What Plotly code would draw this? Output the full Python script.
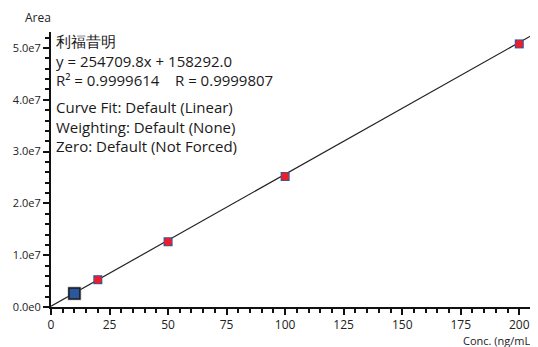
import plotly.graph_objects as go

conc = [10, 20, 50, 100, 200]
area = [2.62e6, 5.27e6, 12.6e6, 25.2e6, 50.8e6]
slope = 254709.8
intercept = 158292.0
highlight_index = 0

x_ticks = [0, 25, 50, 75, 100, 125, 150, 175, 200]
y_ticks = [0, 1e7, 2e7, 3e7, 4e7, 5e7]
y_tick_text = ["0.0e0", "1.0e7", "2.0e7", "3.0e7", "4.0e7", "5.0e7"]

info_group1 = [
    "利福昔明",
    "y = 254709.8x + 158292.0",
    "R² = 0.9999614    R = 0.9999807",
]
info_group2 = [
    "Curve Fit: Default (Linear)",
    "Weighting: Default (None)",
    "Zero: Default (Not Forced)",
]
group_center_py = [60.5, 126.7]

OFF = 8  # page body margin
W, H = 538 - OFF, 347 - OFF
L, R, T, B = 51 - OFF, 0, 32 - OFF, 40
x_max = 208
y_max = 5.31e7

fig = go.Figure()

fit_x = [0, x_max + 5]
fit_y = [slope * v + intercept for v in fit_x]
fig.add_trace(go.Scatter(x=fit_x, y=fit_y, mode="lines",
                         line=dict(color="#222222", width=1.2), hoverinfo="skip"))

others_x = [c for i, c in enumerate(conc) if i != highlight_index]
others_y = [a for i, a in enumerate(area) if i != highlight_index]
fig.add_trace(go.Scatter(x=others_x, y=others_y, mode="markers",
                         marker=dict(symbol="square", size=9, color="#2b58a4",
                                     line=dict(width=0))))
fig.add_trace(go.Scatter(x=others_x, y=others_y, mode="markers",
                         marker=dict(symbol="circle", size=8, color="#e8202c",
                                     line=dict(width=0))))

hx = [conc[highlight_index]]
hy = [area[highlight_index]]
fig.add_trace(go.Scatter(x=hx, y=hy, mode="markers",
                         marker=dict(symbol="square", size=14, color="rgba(150,150,150,0.5)",
                                     line=dict(width=0))))
fig.add_trace(go.Scatter(x=hx, y=hy, mode="markers",
                         marker=dict(symbol="square", size=11, color="#2a579e",
                                     line=dict(width=1.5, color="#1a1a1a"))))

ph = H - T - B
pw = W - L - R


def px_x(p):
    return (p - OFF - L) / pw


def px_y(p):
    return (H - B - (p - OFF)) / ph


for lines, py in zip([info_group1, info_group2], group_center_py):
    fig.add_annotation(text="<br>".join(lines), xref="paper", yref="paper",
                       x=px_x(54), y=px_y(py), align="left",
                       xanchor="left", yanchor="middle", showarrow=False,
                       font=dict(size=15, color="#1a1a1a", family="Open Sans"))

fig.add_annotation(text="Area", xref="paper", yref="paper",
                   x=px_x(23), y=px_y(17),
                   xanchor="left", yanchor="middle", showarrow=False,
                   font=dict(size=12, color="#222222", family="Open Sans"))
fig.add_annotation(text="Conc. (ng/mL)", xref="paper", yref="paper",
                   x=px_x(461), y=px_y(340),
                   xanchor="left", yanchor="middle", showarrow=False,
                   font=dict(size=11, color="#222222", family="Open Sans"))

fig.update_layout(
    width=W, height=H, margin=dict(l=L, r=R, t=T, b=B),
    plot_bgcolor="white", paper_bgcolor="white", showlegend=False,
    font=dict(family="Open Sans", size=11, color="#222222"),
)
fig.update_xaxes(range=[0, x_max], showgrid=False, zeroline=False,
                 showline=True, linecolor="#111111", linewidth=2,
                 tickvals=x_ticks, ticks="outside", ticklen=6, tickwidth=2,
                 tickcolor="#111111", tickfont=dict(size=12),
                 minor=dict(dtick=5, ticks="outside", ticklen=4, tickwidth=2,
                            tickcolor="#111111"))
fig.update_yaxes(range=[0, y_max], showgrid=False, zeroline=False,
                 showline=True, linecolor="#111111", linewidth=2,
                 tickvals=y_ticks, ticktext=y_tick_text, ticks="outside",
                 ticklen=6, tickwidth=2, tickcolor="#111111", tickfont=dict(size=11),
                 minor=dict(dtick=2e6, ticks="outside", ticklen=4, tickwidth=2,
                            tickcolor="#111111"))

fig.write_html("out.html")
